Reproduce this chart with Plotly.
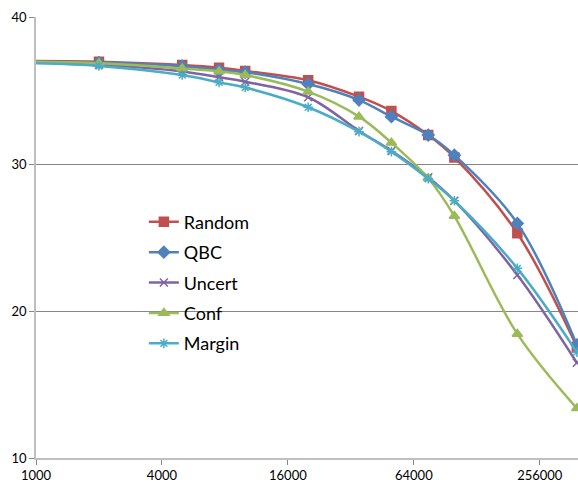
import plotly.graph_objects as go

x_vals = [1000, 2000, 5000, 7500, 10000, 20000, 35000, 50000, 75000, 100000, 200000, 385000]

random_vals = [37.0, 36.95, 36.73, 36.55, 36.33, 35.7, 34.58, 33.6, 31.97, 30.45, 25.29, 17.57]
qbc_vals = [36.95, 36.9, 36.65, 36.4, 36.24, 35.44, 34.35, 33.22, 31.97, 30.6, 25.96, 17.7]
uncert_vals = [36.9, 36.75, 36.3, 35.9, 35.6, 34.54, 32.25, 30.9, 29.1, 27.5, 22.45, 16.48]
conf_vals = [36.95, 36.85, 36.5, 36.3, 36.05, 34.92, 33.22, 31.45, 29.03, 26.46, 18.44, 13.38]
margin_vals = [36.85, 36.67, 36.05, 35.55, 35.2, 33.86, 32.2, 30.84, 29.0, 27.5, 22.9, 17.2]

x_ticks = [1000, 4000, 16000, 64000, 256000]
x_tick_text = ["1000", "4000", "16000", "64000", "256000"]
y_ticks = [10, 20, 30, 40]

series = [
    ("Random", random_vals, "#C0504D", "square", 9),
    ("QBC", qbc_vals, "#4F81BD", "diamond", 9),
    ("Uncert", uncert_vals, "#8064A2", "x-thin-open", 8),
    ("Conf", conf_vals, "#9BBB59", "triangle-up", 9),
    ("Margin", margin_vals, "#4BACC6", "asterisk-open", 8),
]

fig = go.Figure()
for name, vals, color, sym, size in series:
    fig.add_trace(go.Scatter(
        x=x_vals, y=vals, name=name, mode="lines+markers",
        legendgroup=name,
        line=dict(color=color, width=2.5, shape="spline", smoothing=1.0),
        marker=dict(symbol=sym, size=size, color=color,
                    line=dict(color=color, width=1.5)),
        cliponaxis=False,
    ))

fig.update_layout(
    width=578, height=483,
    margin=dict(l=36, r=0, t=17, b=25),
    paper_bgcolor="white", plot_bgcolor="white",
    font=dict(family="Lato, 'Open Sans', sans-serif", size=13, color="#000000"),
    showlegend=True,
    legend=dict(
        x=0.199, y=0.577, xanchor="left", yanchor="top",
        bgcolor="rgba(0,0,0,0)", font=dict(size=18),
        tracegroupgap=4, itemwidth=30,
    ),
    xaxis=dict(
        type="log", range=[3.0, 5.591],
        tickvals=x_ticks, ticktext=x_tick_text,
        showgrid=False, showline=True, linecolor="#BFBFBF", linewidth=1.5,
        ticks="outside", ticklen=5, tickcolor="#868686",
        zeroline=False,
    ),
    yaxis=dict(
        range=[10, 40], tickvals=y_ticks,
        showgrid=True, gridcolor="#868686", gridwidth=1,
        showline=True, linecolor="#BFBFBF", linewidth=1.5,
        ticks="outside", ticklen=5, tickcolor="#868686",
        zeroline=False,
    ),
)

fig.write_html(
    "out.html",
    config={"displayModeBar": False},
    post_script="document.body.style.margin='0';document.body.style.overflow='hidden';",
)
